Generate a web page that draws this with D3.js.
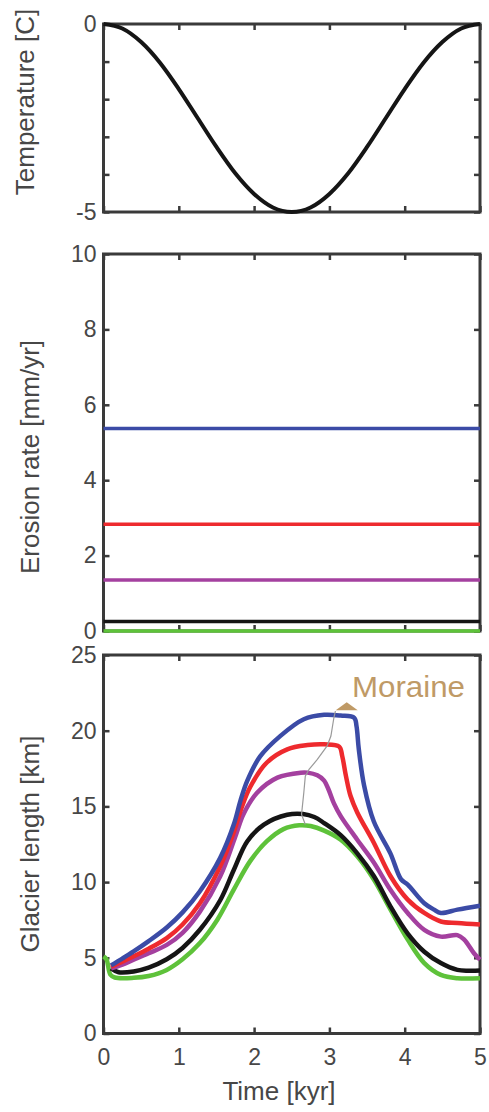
<!DOCTYPE html>
<html><head><meta charset="utf-8">
<script src="https://cdn.jsdelivr.net/npm/d3@7"></script>
<style>
html,body{margin:0;padding:0;background:#fff;}
text{font-family:"Liberation Sans",Arial,Helvetica,sans-serif;}
</style></head>
<body>
<svg id="c" width="489" height="1112"></svg>
<script>
// ---------- data ----------
const tempTime = [0,0.25,0.5,0.75,1,1.25,1.5,1.75,2,2.25,2.5,2.75,3,3.25,3.5,3.75,4,4.25,4.5,4.75,5];
const tempValues = [0,-0.12,-0.48,-1.03,-1.73,-2.5,-3.27,-3.97,-4.52,-4.88,-5,-4.88,-4.52,-3.97,-3.27,-2.5,-1.73,-1.03,-0.48,-0.12,0];

const seriesNames = ["blue","red","purple","black","green"];
const seriesColors = ["#3b4ba6","#ee2a2e","#a4409f","#151515","#5ec23a"];
const erosionRates = [5.37,2.83,1.35,0.25,0];

const glacierBlue = [[0.1,4.5],[0.25,4.95],[0.4,5.42],[0.6,6.1],[0.84,7.0],[1.05,8.0],[1.28,9.4],[1.55,11.6],[1.73,13.8],[1.82,15.4],[1.91,16.7],[2.08,18.3],[2.35,19.66],[2.66,20.76],[2.93,21.05],[3.15,21.0],[3.33,20.85],[3.36,20.3],[3.39,18.8],[3.46,16.4],[3.59,14.0],[3.81,11.9],[3.95,10.2],[4.04,9.83],[4.26,8.6],[4.39,8.18],[4.48,7.96],[4.7,8.18],[5,8.44]];
const glacierRed = [[0.1,4.42],[0.25,4.75],[0.4,5.1],[0.6,5.6],[0.84,6.3],[1.05,7.2],[1.28,8.6],[1.55,11.05],[1.73,13.3],[1.84,15.0],[1.95,16.3],[2.17,17.9],[2.44,18.77],[2.71,19.05],[2.93,19.1],[3.13,18.95],[3.17,18.33],[3.22,17.0],[3.28,15.7],[3.37,14.6],[3.59,12.6],[3.81,10.4],[4.04,8.84],[4.26,7.96],[4.48,7.4],[4.7,7.3],[5,7.2]];
const glacierPurple = [[0.1,4.3],[0.25,4.55],[0.4,4.87],[0.6,5.3],[0.84,5.85],[1.05,6.65],[1.28,8.05],[1.55,10.38],[1.75,13.0],[1.86,14.5],[2.04,15.9],[2.31,16.9],[2.62,17.23],[2.71,17.23],[2.84,17.05],[2.93,16.7],[2.99,16.1],[3.06,15.2],[3.15,14.36],[3.37,12.8],[3.59,11.3],[3.81,9.5],[4.04,7.96],[4.26,6.85],[4.48,6.4],[4.7,6.5],[4.79,6.2],[4.92,5.3],[5,4.87]];
const glacierBlack = [[0.1,4.3],[0.2,4.05],[0.4,4.1],[0.6,4.35],[0.84,4.9],[1.05,5.65],[1.28,6.85],[1.55,8.8],[1.73,10.8],[1.91,12.7],[2.13,13.8],[2.44,14.45],[2.65,14.5],[2.8,14.3],[2.93,13.9],[3.15,13.1],[3.37,11.9],[3.59,10.4],[3.81,8.4],[4.04,6.6],[4.26,5.4],[4.48,4.65],[4.7,4.2],[4.85,4.15],[5,4.16]];
const glacierGreen = [[0,5.1],[0.04,4.9],[0.09,3.9],[0.15,3.7],[0.4,3.68],[0.6,3.8],[0.84,4.2],[1.05,4.9],[1.28,5.97],[1.51,7.5],[1.73,9.5],[1.95,11.4],[2.17,12.7],[2.39,13.5],[2.6,13.75],[2.75,13.7],[2.93,13.4],[3.15,12.8],[3.37,11.7],[3.59,10.17],[3.81,8.2],[4.04,6.2],[4.26,4.65],[4.48,3.87],[4.7,3.65],[5,3.65]];
const glacierSeries = [glacierBlue,glacierRed,glacierPurple,glacierBlack,glacierGreen];

const moraineLine = [[2.68,13.8],[2.63,14.47],[2.66,15.9],[2.68,17.0],[2.73,17.45],[2.84,18.1],[2.97,19.0],[3.02,19.65],[3.06,20.87],[3.08,21.3]];
const moraineMarker = [3.23,21.55];
const moraineLabel = {text:"Moraine", t:3.3, v:22.2};

const timeTicks = [0,1,2,3,4,5];
const tempTicks = [0,-1,-2,-3,-4,-5];
const tempTickLabels = ["0","","","","","-5"];
const erosionTicks = [0,2,4,6,8,10];
const glacierTicks = [0,5,10,15,20,25];

// ---------- layout ----------
const svg = d3.select("#c");
const x = d3.scaleLinear([0,5],[103.5,480]);
const yT = d3.scaleLinear([-5,0],[212,24]);
const yE = d3.scaleLinear([0,10],[631,254]);
const yG = d3.scaleLinear([0,25],[1033.5,655]);

const frameColor = "#3a3a3a";
const textColor = "#474747";
const TICK = 6;

function panel(y, yTicks, yFmt, showX){
  const g = svg.append("g");
  const [y0,y1] = y.range();
  const [x0,x1] = x.range();
  const la = g.append("g").attr("transform",`translate(${x0},0)`)
    .call(d3.axisLeft(y).tickValues(yTicks).tickSize(-TICK).tickPadding(7).tickFormat(yFmt));
  const ra = g.append("g").attr("transform",`translate(${x1},0)`)
    .call(d3.axisRight(y).tickValues(yTicks).tickSize(-TICK).tickFormat(""));
  const ta = g.append("g").attr("transform",`translate(0,${y1})`)
    .call(d3.axisTop(x).tickValues(timeTicks).tickSize(-TICK).tickFormat(""));
  const ba = g.append("g").attr("transform",`translate(0,${y0})`)
    .call(d3.axisBottom(x).tickValues(timeTicks).tickSize(-TICK).tickPadding(15).tickFormat(showX ? d3.format("d") : ""));
  [la,ra,ta,ba].forEach(a=>{
    a.select(".domain").remove();
    a.selectAll(".tick line").attr("stroke",frameColor).attr("stroke-width",2.5);
    a.selectAll("text").attr("fill",textColor).attr("font-size",23)
      .attr("font-family",'"Liberation Sans",Arial,sans-serif');
  });
  g.append("rect").attr("x",x0).attr("y",y1).attr("width",x1-x0).attr("height",y0-y1)
    .attr("fill","none").attr("stroke",frameColor).attr("stroke-width",3);
  return g;
}

panel(yT, tempTicks, (d,i)=>tempTickLabels[i], false);
panel(yE, erosionTicks, d3.format("d"), false);
panel(yG, glacierTicks, d3.format("d"), true);

// temperature curve
svg.append("path")
  .datum(tempTime.map((t,i)=>[t,tempValues[i]]))
  .attr("fill","none").attr("stroke","#151515").attr("stroke-width",4)
  .attr("d", d3.line().x(d=>x(d[0])).y(d=>yT(d[1])).curve(d3.curveMonotoneX));

// erosion lines
erosionRates.forEach((v,i)=>{
  svg.append("path")
    .datum([[0,v],[5,v]])
    .attr("fill","none").attr("stroke",seriesColors[i]).attr("stroke-width",3.5)
    .attr("d", d3.line().x(d=>x(d[0])).y(d=>yE(d[1])));
});

// glacier lines
const gl = d3.line().x(d=>x(d[0])).y(d=>yG(d[1])).curve(d3.curveCatmullRom.alpha(0.5));
for(let i=glacierSeries.length-1;i>=0;i--){
  svg.append("path").datum(glacierSeries[i])
    .attr("fill","none").attr("stroke",seriesColors[i]).attr("stroke-width",4.5)
    .attr("stroke-linejoin","round").attr("d",gl);
}

// moraine connector
svg.append("path").datum(moraineLine)
  .attr("fill","none").attr("stroke","#9a9a9a").attr("stroke-width",1.2)
  .attr("d", d3.line().x(d=>x(d[0])).y(d=>yG(d[1])));

// moraine marker (triangle)
const mx = x(moraineMarker[0]), my = yG(moraineMarker[1]);
svg.append("path")
  .attr("d",`M${mx-11},${my+3}L${mx+11},${my+3}L${mx},${my-5}Z`)
  .attr("fill","#bf9a66");
svg.append("text").attr("x",x(moraineLabel.t)).attr("y",yG(moraineLabel.v))
  .attr("fill","#bf9a66").attr("font-size",29).attr("textLength",113).attr("lengthAdjust","spacingAndGlyphs")
  .text(moraineLabel.text);

// axis titles
function ytitle(txt, xpos, ypos){
  svg.append("text").attr("transform",`translate(${xpos},${ypos}) rotate(-90)`)
    .attr("text-anchor","middle").attr("fill",textColor).attr("font-size",26).text(txt);
}
ytitle("Temperature [C]", 34, 102);
ytitle("Erosion rate [mm/yr]", 39, 457);
ytitle("Glacier length [km]", 39, 844);
svg.append("text").attr("x",279).attr("y",1100).attr("text-anchor","middle")
  .attr("fill",textColor).attr("font-size",26).text("Time [kyr]");
</script>
</body></html>
